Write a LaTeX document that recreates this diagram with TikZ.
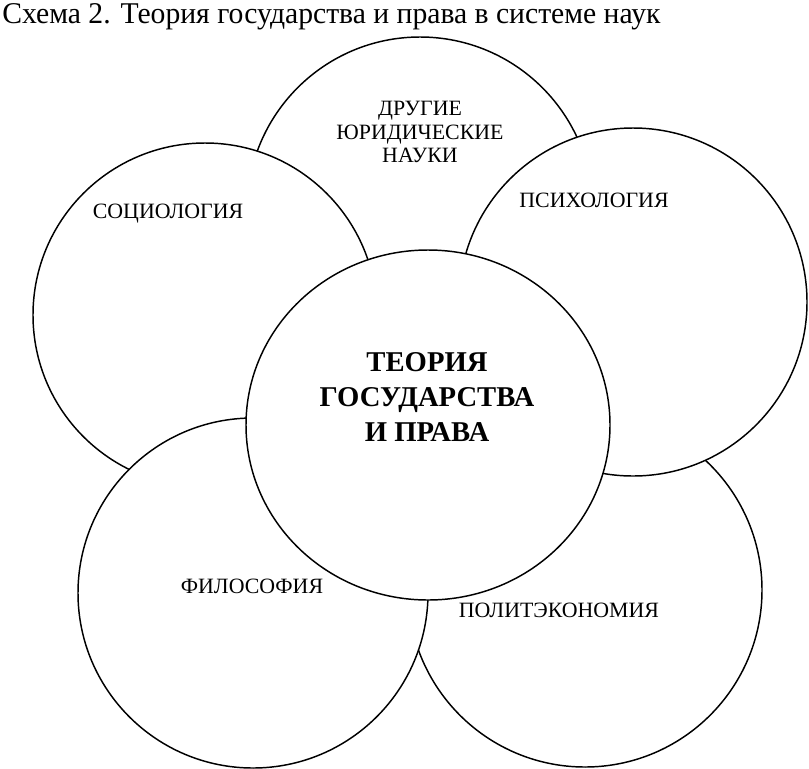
\documentclass[tikz,border=0pt]{standalone}
\usepackage{fontspec}
\setmainfont{Liberation Serif}
\begin{document}
\begin{tikzpicture}[x=0.75pt,y=-0.75pt,
  ring/.style={draw=black,fill=white,line width=1.1pt},
  lbl/.style={font=\fontsize{16.4pt}{17.5pt}\selectfont,align=center,inner sep=0pt},
  mainlbl/.style={font=\fontsize{21.5pt}{26.5pt}\selectfont\bfseries,align=center,inner sep=0pt},
  ttl/.style={font=\fontsize{22.6pt}{24pt}\selectfont,inner sep=0pt}]
\useasboundingbox[fill=white] (0,0) rectangle (809,768);
\coordinate (cTop) at (420,210);
\coordinate (cPol) at (585,590);
\coordinate (cSoc) at (205,315);
\coordinate (cPsy) at (633,302);
\coordinate (cPhi) at (253,593);
\coordinate (cMid) at (428,425);
\draw[ring] (cTop) circle[radius=173*0.75pt];
\draw[ring] (cPol) circle[radius=177*0.75pt];
\draw[ring] (cSoc) circle[radius=172*0.75pt];
\draw[ring] (cPsy) circle[radius=174*0.75pt];
\draw[ring] (cPhi) circle[radius=175*0.75pt];
\draw[ring] (cMid) ellipse[x radius=182*0.75pt,y radius=175*0.75pt];
\node[ttl,anchor=base west] (title) at (2,23) {\scalebox{0.984}[1]{Схема 2. Теория государства и права в системе наук}};
\node[lbl] (lTop) at (420,132) {ДРУГИЕ\\ЮРИДИЧЕСКИЕ\\НАУКИ};
\node[lbl] (lSoc) at (168,214) {СОЦИОЛОГИЯ};
\node[lbl] (lPsy) at (594,200) {ПСИХОЛОГИЯ};
\node[lbl] (lPhi) at (252,586) {ФИЛОСОФИЯ};
\node[lbl] (lPol) at (559,610) {ПОЛИТЭКОНОМИЯ};
\node[mainlbl] (lMid) at (427,397) {ТЕОРИЯ\\ГОСУДАРСТВА\\И ПРАВА};
\end{tikzpicture}
\end{document}
